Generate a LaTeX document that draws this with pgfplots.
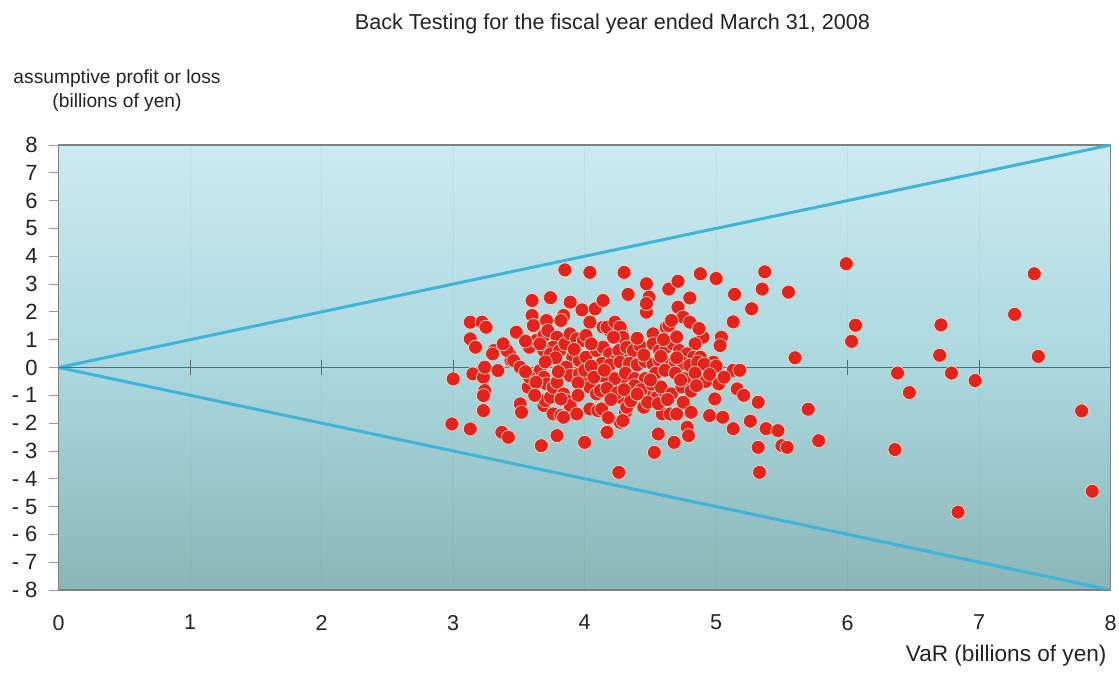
\documentclass[border=0pt]{standalone}
\usepackage{pgfplots}
\pgfplotsset{compat=1.18}
\usepackage{pgfplotstable}
\usepackage{fontspec}
\setmainfont{Liberation Sans}

\definecolor{dotred}{RGB}{230,34,28}
\definecolor{halo}{RGB}{250,218,196}
\definecolor{linecyan}{RGB}{62,180,218}
\definecolor{bgtop}{RGB}{204,234,241}
\definecolor{bgmid}{RGB}{170,216,222}
\definecolor{bgbot}{RGB}{138,182,183}
\definecolor{txt}{RGB}{35,35,35}

\pgfplotstableread{
x y
5.99 3.73
5.55 2.71
6.06 1.52
6.03 0.94
5.60 0.35
6.71 1.53
6.70 0.44
6.38 -0.20
6.79 -0.20
6.97 -0.47
6.47 -0.90
5.70 -1.50
5.78 -2.63
6.36 -2.95
6.84 -5.20
7.27 1.91
7.42 3.37
7.45 0.40
7.78 -1.56
7.86 -4.45
4.30 3.42
4.88 3.37
5.00 3.20
5.37 3.44
5.35 2.82
5.14 2.63
5.27 2.11
5.13 1.64
4.47 3.01
4.33 2.63
4.64 2.82
4.71 3.10
4.80 2.50
4.49 2.53
4.47 1.99
4.71 2.17
4.75 1.81
4.80 1.63
4.62 1.45
4.90 1.09
4.84 0.85
5.04 1.09
5.03 0.79
5.13 -0.10
5.18 -0.10
4.98 0.19
5.02 -0.59
5.16 -0.77
5.21 -1.00
4.99 -1.13
5.32 -1.25
4.95 -1.73
5.05 -1.79
5.13 -2.20
5.26 -1.93
5.38 -2.20
5.47 -2.27
5.32 -2.87
5.50 -2.81
5.54 -2.87
5.33 -3.77
4.56 -2.39
4.68 -2.69
4.78 -2.15
4.79 -2.45
4.53 -3.05
4.26 -3.77
4.17 -2.30
4.27 -1.97
4.31 -1.61
4.34 -1.31
4.59 -1.67
4.65 -1.67
4.70 -1.67
4.75 -1.25
4.81 -1.61
4.45 -1.43
4.50 -0.95
4.55 -1.07
4.60 -0.83
4.13 -1.49
3.85 3.51
4.04 3.42
3.60 2.41
3.74 2.51
3.89 2.35
3.98 2.07
4.08 2.11
4.14 2.41
3.84 1.87
3.82 1.69
4.04 1.63
3.13 1.63
3.22 1.63
3.25 1.45
3.60 1.87
3.61 1.51
3.71 1.69
3.48 1.27
3.13 1.03
3.17 0.73
3.31 0.61
3.30 0.49
3.43 0.49
3.44 0.25
3.58 0.73
3.63 0.97
3.69 1.15
3.72 1.33
3.79 1.09
3.76 0.73
3.69 0.61
3.74 0.49
3.81 0.61
3.85 0.85
3.89 1.21
3.94 1.03
3.99 0.97
4.01 1.15
4.14 1.45
4.19 1.33
4.24 1.51
4.28 1.27
4.31 0.97
3.91 0.37
3.96 0.25
4.01 0.37
4.09 0.61
4.14 0.73
4.19 0.49
4.24 0.25
4.29 0.61
4.34 0.37
3.00 -0.41
3.15 -0.23
3.23 -0.35
3.24 0.01
3.34 -0.11
3.24 -0.83
3.23 -1.01
3.23 -1.55
2.99 -2.03
3.13 -2.21
3.37 -2.33
3.42 -2.51
3.51 -1.31
3.52 -1.61
3.57 -0.71
3.67 -2.81
3.79 -2.45
3.69 -1.37
3.70 -1.19
3.74 -1.07
3.66 -0.11
3.69 -0.35
3.71 -0.59
3.76 -0.71
3.79 -0.53
3.84 -0.95
3.86 -1.19
3.89 -1.37
3.82 -1.13
3.76 -1.67
3.82 -1.73
3.84 -1.79
3.94 -1.67
3.86 0.01
3.89 -0.29
3.96 -0.23
4.01 -0.53
4.04 -0.71
4.09 -0.95
4.12 -0.83
4.04 -1.49
4.10 -1.55
4.13 -1.49
4.00 -2.69
4.17 -2.33
4.19 -0.35
4.24 -0.59
4.29 -0.35
4.27 -1.07
4.32 -1.43
4.29 -1.91
3.41 0.61
3.46 0.25
3.51 0.01
3.58 -0.35
3.63 -0.53
4.17 1.45
4.23 1.63
4.27 1.45
4.29 1.09
4.22 1.09
4.26 0.61
4.32 0.73
4.37 0.61
4.42 0.79
4.52 1.21
4.52 0.85
4.57 0.61
4.62 0.73
4.67 0.85
4.72 0.61
4.78 0.49
4.83 0.37
4.88 0.37
4.64 1.51
4.66 1.69
4.13 0.15
4.19 0.10
4.27 0.20
4.34 0.15
4.40 0.10
4.46 0.22
4.52 0.12
4.57 0.25
4.63 0.10
4.69 0.20
4.75 0.15
4.80 0.08
4.86 0.20
4.91 0.12
5.00 0.05
4.14 -0.30
4.23 -0.40
4.31 -0.20
4.38 -0.40
4.46 -0.40
4.54 -0.20
4.61 -0.10
4.69 -0.20
4.76 -0.40
4.84 -0.20
4.92 -0.50
4.17 -0.75
4.25 -0.90
4.38 -0.65
4.43 -0.80
4.51 -0.60
4.58 -0.70
4.66 -0.95
4.74 -0.70
4.81 -0.85
4.20 -1.15
4.35 -1.20
4.48 -1.25
4.56 -1.30
4.63 -1.15
3.55 0.95
3.66 0.85
3.78 0.35
3.70 0.20
3.80 -0.15
3.95 -0.55
4.00 -0.10
4.05 0.05
4.07 -0.35
4.15 -0.10
3.92 0.65
4.05 0.85
4.40 1.05
4.45 0.45
4.50 -0.45
4.58 0.40
4.70 0.35
4.73 -0.45
4.85 -0.65
4.60 1.00
4.70 1.10
4.40 -0.95
4.30 -0.80
3.62 -1.00
3.95 -1.00
4.18 -1.80
3.55 -0.15
3.38 0.85
4.47 2.30
4.95 -0.25
5.06 -0.35
4.87 1.40
}\pnl

\begin{document}
\begin{tikzpicture}
\path[use as bounding box] (-58.7pt,-87pt) rectangle (1060.3pt,590pt);
\begin{axis}[
  at={(0pt,0pt)}, anchor=south west,
  scale only axis, width=1052pt, height=445pt,
  xmin=0, xmax=8, ymin=-8, ymax=8,
  axis line style={draw=black!50, line width=1.4pt},
  axis background/.style={top color=bgtop, bottom color=bgbot, middle color=bgmid},
  xtick={0,...,8}, ytick={-8,...,8},
  yticklabels={- 8,- 7,- 6,- 5,- 4,- 3,- 2,- 1,0,1,2,3,4,5,6,7,8},
  xticklabels={0,1,2,3,4,5,6,7,8},
  xtick pos=bottom, ytick pos=left,
  tick align=outside, major tick length=10pt,
  xtick style={draw=none},
  ytick style={draw=black!40, line width=0.8pt},
  xmajorgrids, grid style={black, opacity=0.035, line width=1pt},
  yticklabel style={font=\fontsize{22}{22}\selectfont, text=txt, anchor=east, inner sep=0pt, xshift=-11pt},
  xticklabel style={font=\fontsize{21.5}{21.5}\selectfont, text=txt, anchor=north, inner sep=0pt, yshift=-15pt},
  clip=true,
]
\addplot[linecyan, line width=3pt] coordinates {(0,0) (8,8)};
\addplot[linecyan, line width=3pt] coordinates {(0,0) (8,-8)};
\addplot[black!60, line width=1.2pt] coordinates {(0,0) (8,0)};
\addplot[only marks, mark=|, mark size=7.5pt, black!60, mark options={line width=1pt}] coordinates {(1,0) (2,0) (3,0) (4,0) (5,0) (6,0) (7,0)};
\addplot[only marks, mark=*, mark size=7pt, mark options={fill=dotred, draw=halo, line width=0.7pt}] table[x=x, y=y] {\pnl};
\end{axis}
\node[anchor=base, text=txt, font=\fontsize{21.6}{21.6}\selectfont] at (553.8pt,560pt) {Back Testing for the fiscal year ended March 31, 2008};
\node[anchor=base, text=txt, font=\fontsize{19.2}{19.2}\selectfont] at (58.3pt,506pt) {assumptive profit or loss};
\node[anchor=base, text=txt, font=\fontsize{19.2}{19.2}\selectfont] at (58.3pt,482pt) {(billions of yen)};
\node[anchor=base east, text=txt, font=\fontsize{22.6}{22.6}\selectfont] at (1051.3pt,-71.7pt) {VaR (billions of yen)};
\end{tikzpicture}
\end{document}
